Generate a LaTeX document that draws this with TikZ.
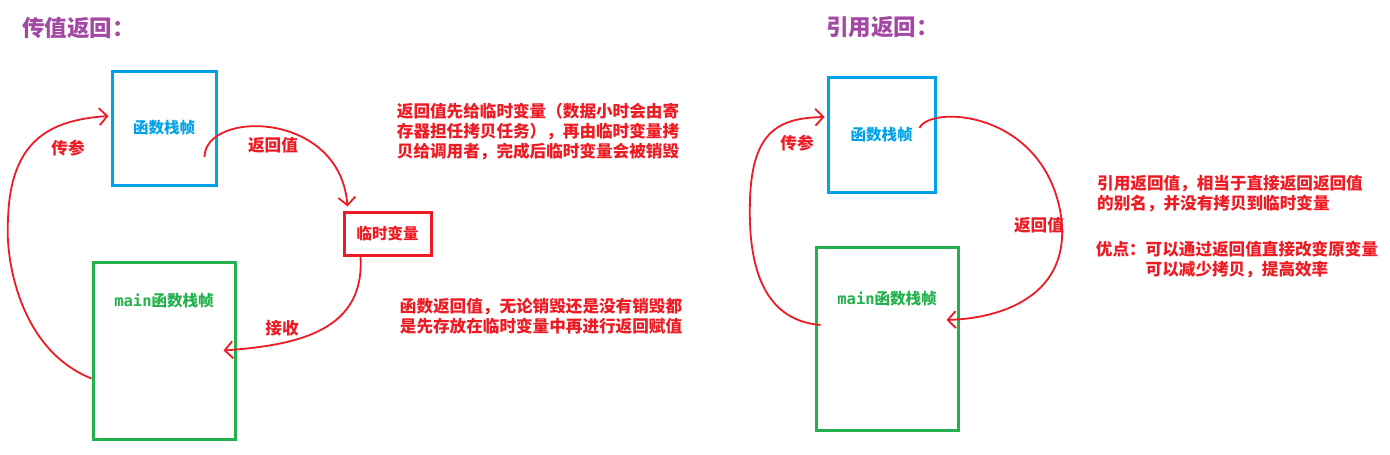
\documentclass[tikz,border=0pt]{standalone}
\usepackage{fontspec}
\usepackage{tikz}
\usetikzlibrary{arrows.meta}
\setmainfont{Noto Sans CJK SC}
\newfontfamily\monofont{DejaVu Sans Mono}
\definecolor{paintred}{HTML}{ED1C24}
\definecolor{paintblue}{HTML}{00A2E8}
\definecolor{paintgreen}{HTML}{22B14C}
\definecolor{paintpurple}{HTML}{A349A4}

\begin{document}
\begin{tikzpicture}[
    x=1pt, y=-1pt,
    title/.style={anchor=west, inner sep=0pt, text=paintpurple, font=\fontsize{22.5}{26}\selectfont\bfseries},
    frame/.style={draw, line width=3pt, inner sep=0pt, font=\fontsize{15.5}{18}\selectfont\bfseries},
    frametext/.style={inner sep=0pt, font=\fontsize{15.5}{18}\selectfont\bfseries},
    note/.style={inner sep=0pt, text=paintred, font=\fontsize{16.6}{20}\selectfont\bfseries},
    flow/.style={draw=paintred, line width=1.8pt, -{Straight Barb[length=8pt,width=17pt,line width=1.8pt]}}
]
\useasboundingbox (0,0) rectangle (1390,455);

% value return
\node[title] (titleL) at (22,28) {传值返回：};
\node[frame, draw=paintblue, text=paintblue, minimum width=104pt, minimum height=114pt] (funcL) at (164,128) {函数栈帧};
\node[frame, draw=paintgreen, minimum width=142pt, minimum height=177pt] (mainL) at (164,350.5) {};
\node[frametext, text=paintgreen] (mainLtext) at ([yshift=-40pt]mainL.north) {{\monofont main}函数栈帧};
\node[frame, draw=paintred, text=paintred, minimum width=87pt, minimum height=43pt] (tmp) at (387.5,233.5) {临时变量};
\node[note] (passL) at (68,148) {传参};
\node[note] (retL) at (273,145) {返回值};
\node[note] (recvL) at (282,328) {接收};
\node[note, align=left] (noteA) at (538,132) {返回值先给临时变量（数据小时会由寄\\存器担任拷贝任务），再由临时变量拷\\贝给调用者，完成后临时变量会被销毁};
\node[note, align=left] (noteB) at (541,316) {函数返回值，无论销毁还是没有销毁都\\是先存放在临时变量中再进行返回赋值};

\draw[flow] ([yshift=-28pt]mainL.west) .. controls (20,350) and (5,260) .. (8,220)
    .. controls (10,140) and (50,120) .. ([xshift=-2pt,yshift=12pt]funcL.west);
\draw[flow] ([xshift=-13pt,yshift=-29pt]funcL.east) .. controls (205,110) and (340,110) .. ([xshift=-40pt,yshift=4pt]tmp.north);
\draw[flow] ([xshift=-27pt]tmp.south) .. controls (365,330) and (300,345) .. ([xshift=-13pt]mainL.east);

% reference return
\node[title] (titleR) at (826,27) {引用返回：};
\node[frame, draw=paintblue, text=paintblue, minimum width=107pt, minimum height=115pt] (funcR) at (881.5,134.5) {函数栈帧};
\node[frame, draw=paintgreen, minimum width=142pt, minimum height=183pt] (mainR) at (887,338.5) {};
\node[frametext, text=paintgreen] (mainRtext) at ([yshift=-53pt]mainR.north) {{\monofont main}函数栈帧};
\node[note] (passR) at (797,143) {传参};
\node[note] (retR) at (1039,225) {返回值};
\node[note, anchor=west, align=left] (noteC) at (1097,194) {引用返回值，相当于直接返回返回值\\的别名，并没有拷贝到临时变量};
\node[note, align=center] (noteD) at (1237,260) {优点：可以通过返回值直接改变原变量\\可以减少拷贝，提高效率};

\draw[flow] ([xshift=6pt,yshift=13.5pt]mainR.west) .. controls (760,320) and (748,260) .. (750,200)
    .. controls (752,130) and (780,118) .. ([xshift=-2pt,yshift=17.5pt]funcR.west);
\draw[flow] ([xshift=-17pt,yshift=6.5pt]funcR.east) .. controls (930,105) and (1040,110) .. (1060,210)
    .. controls (1075,290) and (1010,318) .. ([xshift=-13pt,yshift=18.5pt]mainR.east);
\end{tikzpicture}
\end{document}
